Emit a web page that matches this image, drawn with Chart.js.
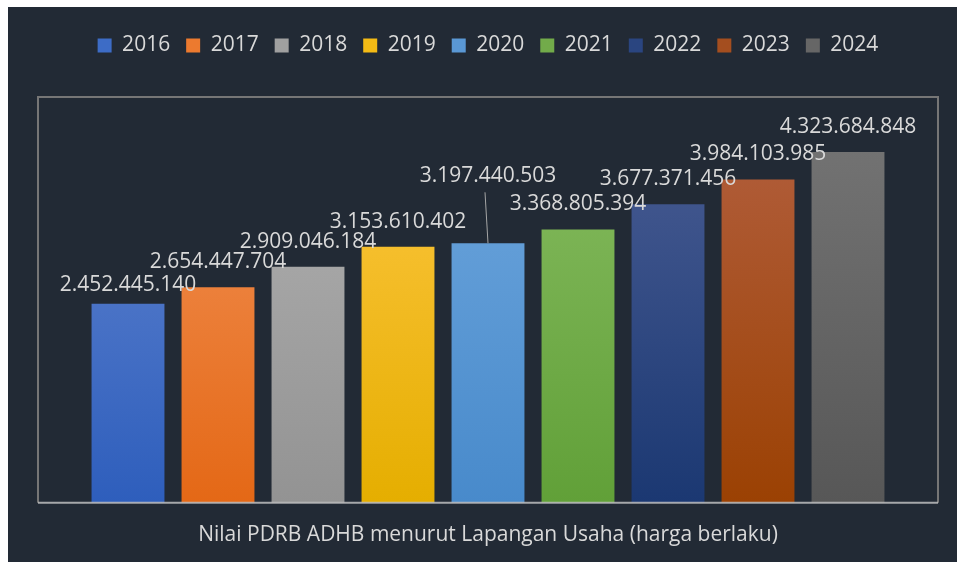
<!DOCTYPE html>
<html>
<head>
<meta charset="utf-8">
<script src="https://cdn.jsdelivr.net/npm/chart.js@4"></script>
<style>
  html, body { margin: 0; padding: 0; background: #ffffff; }
  #wrap { position: absolute; left: 8px; top: 7px; width: 949px; height: 555px; background: #222a35; }
</style>
</head>
<body>
<div id="wrap"><canvas id="myChart" width="949" height="555"></canvas></div>
<script>
var yearLabels = ['2016', '2017', '2018', '2019', '2020', '2021', '2022', '2023', '2024'];
var pdrbValues = [2452445140, 2654447704, 2909046184, 3153610402, 3197440503, 3368805394, 3677371456, 3984103985, 4323684848];
var topColors = ['#6688d1', '#f3955b', '#b2b2b2', '#ffc846', '#70a8de', '#88bd62', '#4c5f96', '#b46142', '#767676'];
var bottomColors = ['#2e5ebc', '#e46816', '#939393', '#e5ae00', '#488acb', '#61a038', '#1b3872', '#9b4103', '#575757'];
var legendColors = ['#3d6cc6', '#ec7a2f', '#a0a0a0', '#f4bb15', '#5a98d5', '#72ab4a', '#2a4580', '#a44e1f', '#666666'];
var chartTitle = 'Nilai PDRB ADHB menurut Lapangan Usaha (harga berlaku)';

var FONT = '"Open Sans", "Noto Sans", sans-serif';

// vertical gradient per bar, light on top
function barGradient(i) {
    return function (context) {
        var chart = context.chart;
        var area = chart.chartArea;
        if (!area) return bottomColors[i];
        var g = chart.ctx.createLinearGradient(0, area.bottom, 0, area.top);
        g.addColorStop(0, bottomColors[i]);
        g.addColorStop(1, topColors[i]);
        return g;
    };
}

// number format with dots, like 2.452.445.140
function formatDots(v) {
    return String(v).replace(/\B(?=(\d{3})+(?!\d))/g, '.');
}

var datasets = yearLabels.map(function (y, i) {
    return {
        label: y,
        data: [pdrbValues[i]],
        backgroundColor: barGradient(i),
        borderWidth: 0,
        categoryPercentage: 0.9,
        barPercentage: 0.81
    };
});

var legendSpace = {
    id: 'legendSpace',
    beforeInit: function (chart) {
        var orig = chart.legend.fit;
        chart.legend.fit = function () {
            orig.bind(chart.legend)();
            this.height += 31;
        };
    }
};

var plotBox = {
    id: 'plotBox',
    afterDatasetsDraw: function (chart) {
        var a = chart.chartArea;
        var ctx = chart.ctx;
        ctx.save();
        ctx.lineWidth = 2;
        ctx.strokeStyle = '#767676';
        ctx.beginPath();
        ctx.moveTo(a.left, a.bottom);
        ctx.lineTo(a.left, a.top);
        ctx.lineTo(a.right, a.top);
        ctx.lineTo(a.right, a.bottom);
        ctx.stroke();
        ctx.strokeStyle = 'rgba(200,200,200,0.8)';
        ctx.beginPath();
        ctx.moveTo(a.left, a.bottom);
        ctx.lineTo(a.right, a.bottom);
        ctx.stroke();
        ctx.restore();
    }
};

var valueLabels = {
    id: 'valueLabels',
    afterDatasetsDraw: function (chart, args, opts) {
        var ctx = chart.ctx;
        ctx.save();
        ctx.font = '21px ' + FONT;
        ctx.fillStyle = '#d9d9d9';
        ctx.textAlign = 'center';
        ctx.textBaseline = 'middle';
        chart.data.datasets.forEach(function (ds, i) {
            var bar = chart.getDatasetMeta(i).data[0];
            var shift = opts.shift[i] || 0;
            var y = bar.y - 25 + shift;
            if (i === opts.callout) {
                ctx.strokeStyle = '#a6a6a6';
                ctx.lineWidth = 1;
                ctx.beginPath();
                ctx.moveTo(bar.x - 3, y + 16);
                ctx.lineTo(bar.x, bar.y);
                ctx.stroke();
            }
            ctx.fillText(formatDots(ds.data[0]), bar.x, y);
        });
        ctx.restore();
    }
};

new Chart('myChart', {
    type: 'bar',
    data: {
        labels: [''],
        datasets: datasets
    },
    options: {
        responsive: false,
        animation: false,
        layout: {
            padding: { top: 12, left: 30, right: 19, bottom: 0 }
        },
        scales: {
            x: { display: false },
            y: { display: false, min: 0, max: 5000000000 }
        },
        plugins: {
            legend: {
                position: 'top',
                labels: {
                    color: '#d9d9d9',
                    font: { family: FONT, size: 21 },
                    boxWidth: 14,
                    boxHeight: 14,
                    padding: 16,
                    generateLabels: function (chart) {
                        return chart.data.datasets.map(function (ds, i) {
                            return {
                                text: ds.label,
                                fillStyle: legendColors[i],
                                strokeStyle: legendColors[i],
                                lineWidth: 0,
                                fontColor: '#d9d9d9',
                                datasetIndex: i
                            };
                        });
                    }
                }
            },
            title: {
                display: true,
                position: 'bottom',
                text: chartTitle,
                color: '#d9d9d9',
                font: { family: FONT, size: 21, weight: 'normal' },
                padding: { top: 20, bottom: 14 }
            },
            tooltip: { enabled: false },
            valueLabels: { callout: 4, shift: { 0: 6, 4: -42 } }
        }
    },
    plugins: [legendSpace, plotBox, valueLabels]
});
</script>
</body>
</html>
